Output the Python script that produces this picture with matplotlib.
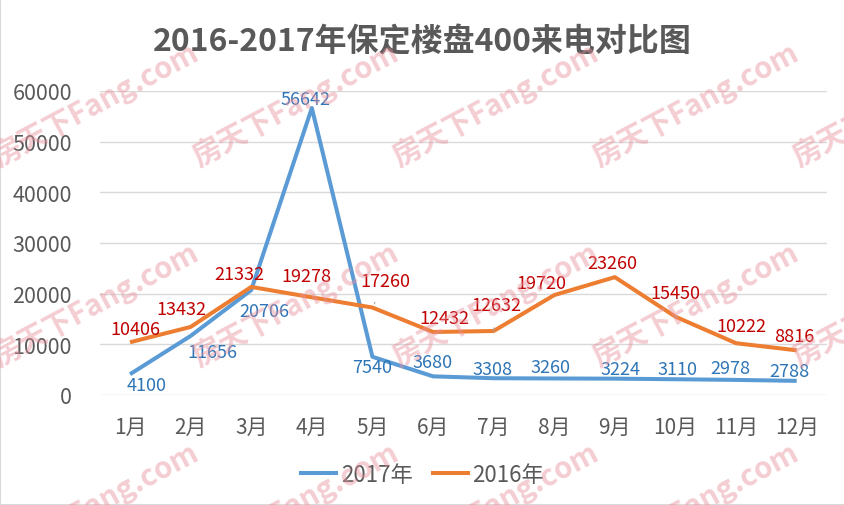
import matplotlib
matplotlib.use("Agg")
from matplotlib import pyplot as plt
from matplotlib.lines import Line2D

plt.rcParams['font.family'] = ['Noto Sans CJK SC', 'DejaVu Sans']

# 数据
months = ['1月', '2月', '3月', '4月', '5月', '6月', '7月', '8月', '9月', '10月', '11月', '12月']
calls_2017 = [4100, 11656, 20706, 56642, 7540, 3680, 3308, 3260, 3224, 3110, 2978, 2788]
calls_2016 = [10406, 13432, 21332, 19278, 17260, 12432, 12632, 19720, 23260, 15450, 10222, 8816]
y_ticks = [0, 10000, 20000, 30000, 40000, 50000, 60000]

# 数据标签偏移（像素，y向上为正）
off_2017 = [(17, -11), (22, -16), (13, -21), (-6, 9), (0, -10), (0, 14),
            (-1, 9), (-4, 11), (6, 10), (2, 10), (-6, 12), (-7, 10)]
off_2016 = [(5, 13), (-9, 18), (-12, 13), (-5, 21), (13, 27), (11, 14),
            (3, 26), (-13, 12), (-3, 14), (0, 24), (5, 17), (-2, 14)]
leader_2016 = [4, 6, 9]

blue = '#5B9BD5'
orange = '#ED7D31'
grey_txt = '#595959'

fig = plt.figure(figsize=(8.45, 5.06), dpi=100)
ax = fig.add_axes([0.118, 0.2174, 0.8607, 0.6008])

x = list(range(len(months)))
ax.plot(x, calls_2017, color=blue, lw=2.9, zorder=3, solid_capstyle='butt')
ax.plot(x, calls_2016, color=orange, lw=2.9, zorder=4, solid_capstyle='butt')

for i, v in enumerate(calls_2017):
    ax.annotate(str(v), (i, v), xytext=off_2017[i], textcoords='offset pixels',
                ha='center', va='center', fontsize=13, color='#2E75B6', zorder=6)
for i, v in enumerate(calls_2016):
    props = None
    if i in leader_2016:
        props = dict(arrowstyle='-', color='#A6A6A6', lw=0.8, shrinkA=8, shrinkB=3)
    ax.annotate(str(v), (i, v), xytext=off_2016[i], textcoords='offset pixels',
                ha='center', va='center', fontsize=13, color='#C00000', zorder=6,
                arrowprops=props)

ax.set_xlim(-0.5, len(months) - 0.5)
ax.set_ylim(0, 60000)
ax.set_yticks(y_ticks)
ax.set_yticklabels([str(t) for t in y_ticks])
ax.set_xticks(x)
ax.set_xticklabels(months)
ax.grid(axis='y', color='#D9D9D9', lw=1)
ax.set_axisbelow(True)
for s in ax.spines.values():
    s.set_visible(False)
ax.tick_params(axis='y', length=0, pad=20, labelsize=15.5, labelcolor=grey_txt)
ax.tick_params(axis='x', length=0, pad=15, labelsize=15, labelcolor=grey_txt)

fig.text(0.5, 0.917, '2016-2017年保定楼盘400来电对比图', ha='center', va='center',
         fontsize=23, fontweight='bold', color='#595959')

handles = [Line2D([], [], color=blue, lw=2.9), Line2D([], [], color=orange, lw=2.9)]
fig.legend(handles, ['2017年', '2016年'], loc='center', bbox_to_anchor=(0.5, 0.06),
           ncol=2, frameon=False, fontsize=16, handlelength=1.6, handletextpad=0.2,
           columnspacing=0.9, labelcolor=grey_txt)

# 水印
for cy in [105, 305, 505]:
    for cx in [95, 295, 495, 695, 895]:
        fig.text(cx / 845, 1 - cy / 506, '房天下Fang.com', ha='center', va='center',
                 rotation=28, fontsize=21, color='#E8909C', alpha=0.45,
                 fontweight='bold', zorder=10)

fig.patches.append(plt.Rectangle((0, 0), 1, 1, transform=fig.transFigure,
                                 fill=False, ec='#D9D9D9', lw=1.5))

fig.savefig('out.png', dpi=100)
